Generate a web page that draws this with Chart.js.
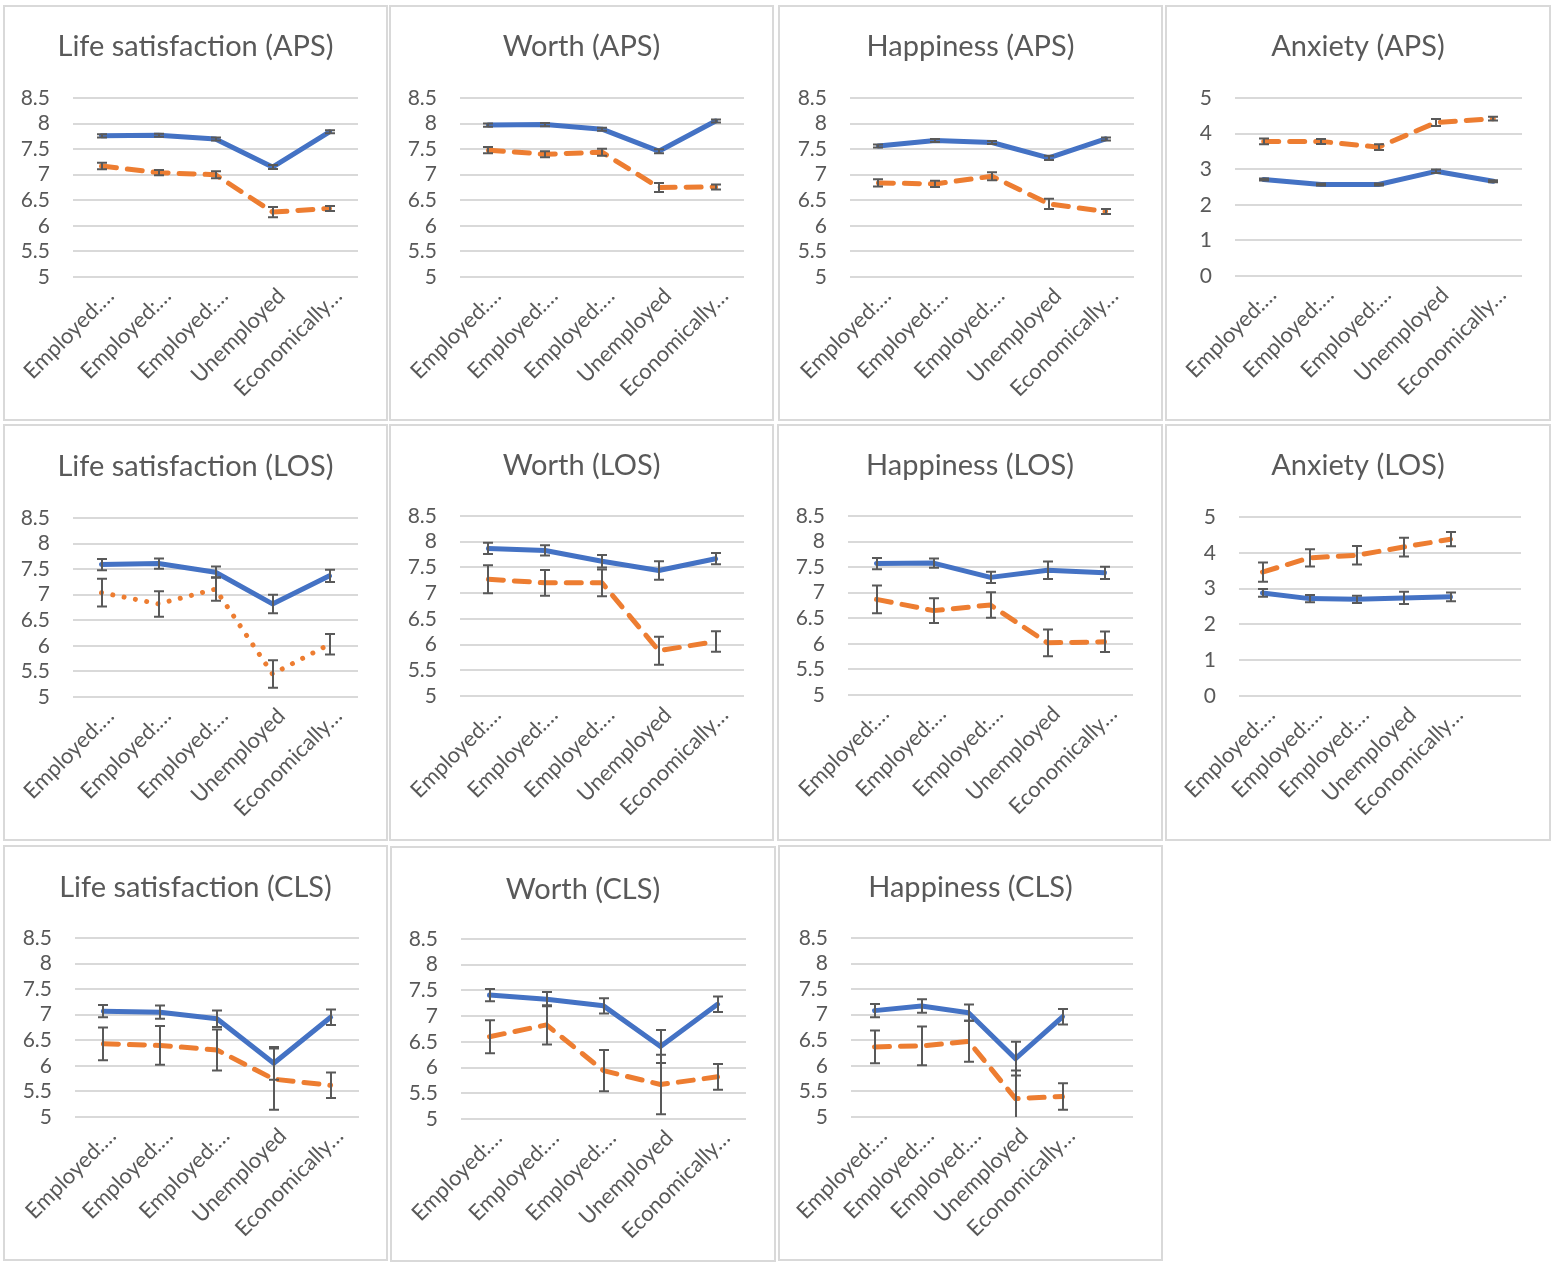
<!DOCTYPE html>
<html><head><meta charset="utf-8">
<script src="https://cdn.jsdelivr.net/npm/chart.js@4"></script>
<style>
html,body{margin:0;padding:0;background:#fff;}
body{width:1551px;height:1262px;position:relative;overflow:hidden;}
canvas{position:absolute;}
.bd{position:absolute;border:2px solid #d9d9d9;box-sizing:border-box;pointer-events:none;}
</style></head><body>
<script>
// ---- categories ----
const categories5 = ["Employed:…", "Employed:…", "Employed:…", "Unemployed", "Economically…"];
const categories6 = ["Employed:…", "Employed:…", "Employed:…", "Unemployed", "Economically…", ""];

// ---- APS ----
const lsApsA = [7.76, 7.77, 7.70, 7.15, 7.84];
const lsApsAErr = [0.03, 0.03, 0.03, 0.04, 0.03];
const lsApsB = [7.17, 7.04, 7.00, 6.27, 6.34];
const lsApsBErr = [0.065, 0.05, 0.07, 0.10, 0.05];
const worthApsA = [7.97, 7.98, 7.89, 7.46, 8.05];
const worthApsAErr = [0.03, 0.03, 0.03, 0.04, 0.03];
const worthApsB = [7.48, 7.40, 7.44, 6.75, 6.76];
const worthApsBErr = [0.06, 0.06, 0.07, 0.09, 0.05];
const hapApsA = [7.56, 7.67, 7.63, 7.33, 7.70];
const hapApsAErr = [0.03, 0.03, 0.03, 0.04, 0.03];
const hapApsB = [6.84, 6.82, 6.97, 6.43, 6.28];
const hapApsBErr = [0.07, 0.06, 0.08, 0.10, 0.05];
const anxApsA = [2.71, 2.57, 2.57, 2.94, 2.66];
const anxApsAErr = [0.03, 0.03, 0.03, 0.05, 0.03];
const anxApsB = [3.78, 3.78, 3.62, 4.31, 4.42];
const anxApsBErr = [0.08, 0.07, 0.08, 0.10, 0.05];

// ---- LOS ----
const lsLosA = [7.59, 7.61, 7.44, 6.82, 7.37];
const lsLosAErr = [0.11, 0.10, 0.11, 0.18, 0.12];
const lsLosB = [7.04, 6.82, 7.11, 5.45, 6.03];
const lsLosBErr = [0.27, 0.25, 0.23, 0.27, 0.20];
const worthLosA = [7.87, 7.83, 7.62, 7.44, 7.67];
const worthLosAErr = [0.11, 0.10, 0.12, 0.18, 0.11];
const worthLosB = [7.27, 7.20, 7.20, 5.88, 6.06];
const worthLosBErr = [0.27, 0.25, 0.26, 0.27, 0.20];
const hapLosA = [7.57, 7.58, 7.30, 7.44, 7.39];
const hapLosAErr = [0.11, 0.09, 0.11, 0.17, 0.12];
const hapLosB = [6.87, 6.65, 6.76, 6.02, 6.04];
const hapLosBErr = [0.27, 0.24, 0.25, 0.26, 0.20];
const anxLosA = [2.88, 2.72, 2.70, 2.74, 2.77];
const anxLosAErr = [0.11, 0.10, 0.10, 0.17, 0.12];
const anxLosB = [3.46, 3.86, 3.93, 4.16, 4.38];
const anxLosBErr = [0.27, 0.24, 0.26, 0.26, 0.20];

// ---- CLS ----
const lsClsA = [7.07, 7.05, 6.92, 6.05, 6.95];
const lsClsAErr = [0.12, 0.13, 0.16, 0.32, 0.15];
const lsClsB = [6.43, 6.40, 6.31, 5.74, 5.62];
const lsClsBErr = [0.32, 0.38, 0.40, 0.60, 0.25];
const worthClsA = [7.41, 7.33, 7.20, 6.41, 7.23];
const worthClsAErr = [0.12, 0.14, 0.15, 0.32, 0.15];
const worthClsB = [6.60, 6.83, 5.94, 5.67, 5.82];
const worthClsBErr = [0.32, 0.38, 0.40, 0.58, 0.25];
const hapClsA = [7.08, 7.17, 7.04, 6.14, 6.96];
const hapClsAErr = [0.13, 0.13, 0.16, 0.33, 0.15];
const hapClsB = [6.37, 6.39, 6.48, 5.36, 5.40];
const hapClsBErr = [0.32, 0.38, 0.40, 0.55, 0.26];

// ---- y tick values ----
const wellbeingTickValues = [5, 5.5, 6, 6.5, 7, 7.5, 8, 8.5];
const anxietyTickValues = [0, 1, 2, 3, 4, 5];

// ---- layout (positions only) ----
const FONT = "Lato, 'Open Sans', sans-serif";
const TEXT = '#595959';
const panels = [
  {title:'Life satisfaction (APS)', cats:categories5, a:lsApsA, ae:lsApsAErr, b:lsApsB, be:lsApsBErr, ticks:wellbeingTickValues, dotted:false, box:[3,5,385,416], plot:[73,98,358,277], ty:47},
  {title:'Worth (APS)', cats:categories5, a:worthApsA, ae:worthApsAErr, b:worthApsB, be:worthApsBErr, ticks:wellbeingTickValues, dotted:false, box:[389,5,385,416], plot:[460,98,744,277], ty:47},
  {title:'Happiness (APS)', cats:categories5, a:hapApsA, ae:hapApsAErr, b:hapApsB, be:hapApsBErr, ticks:wellbeingTickValues, dotted:false, box:[778,5,385,416], plot:[850,98,1134,277], ty:47},
  {title:'Anxiety (APS)', cats:categories5, a:anxApsA, ae:anxApsAErr, b:anxApsB, be:anxApsBErr, ticks:anxietyTickValues, dotted:false, box:[1165,5,386,416], plot:[1235,98,1522,276], ty:47},
  {title:'Life satisfaction (LOS)', cats:categories5, a:lsLosA, ae:lsLosAErr, b:lsLosB, be:lsLosBErr, ticks:wellbeingTickValues, dotted:true, box:[3,424,385,417], plot:[73,518,358,697], ty:467},
  {title:'Worth (LOS)', cats:categories5, a:worthLosA, ae:worthLosAErr, b:worthLosB, be:worthLosBErr, ticks:wellbeingTickValues, dotted:false, box:[389,424,385,417], plot:[460,516,744,696], ty:466},
  {title:'Happiness (LOS)', cats:categories5, a:hapLosA, ae:hapLosAErr, b:hapLosB, be:hapLosBErr, ticks:wellbeingTickValues, dotted:false, box:[777,424,386,417], plot:[848,516,1133,695], ty:466},
  {title:'Anxiety (LOS)', cats:categories6, a:anxLosA, ae:anxLosAErr, b:anxLosB, be:anxLosBErr, ticks:anxietyTickValues, dotted:false, box:[1165,424,386,417], plot:[1239,517,1521,696], ty:466},
  {title:'Life satisfaction (CLS)', cats:categories5, a:lsClsA, ae:lsClsAErr, b:lsClsB, be:lsClsBErr, ticks:wellbeingTickValues, dotted:false, box:[3,845,385,416], plot:[75,938,359,1117], ty:888},
  {title:'Worth (CLS)', cats:categories5, a:worthClsA, ae:worthClsAErr, b:worthClsB, be:worthClsBErr, ticks:wellbeingTickValues, dotted:false, box:[390,846,386,416], plot:[461,939,746,1119], ty:890},
  {title:'Happiness (CLS)', cats:categories6, a:hapClsA, ae:hapClsAErr, b:hapClsB, be:hapClsBErr, ticks:wellbeingTickValues, dotted:false, box:[778,845,385,416], plot:[851,938,1133,1117], ty:888}
];

const errorBarPlugin = {
  id: 'errbars',
  afterDatasetsDraw(chart) {
    const ctx = chart.ctx, xs = chart.scales.x, ys = chart.scales.y, area = chart.chartArea;
    ctx.save();
    ctx.beginPath();
    ctx.rect(area.left - 20, area.top, area.right - area.left + 40, area.bottom - area.top);
    ctx.clip();
    ctx.strokeStyle = '#595959';
    ctx.lineWidth = 2;
    ctx.lineCap = 'butt';
    chart.data.datasets.forEach(ds => {
      const errs = ds.errors;
      if (!errs) return;
      ds.data.forEach((v, i) => {
        if (v == null) return;
        const x = Math.round(xs.getPixelForValue(i));
        const y1 = ys.getPixelForValue(v + errs[i]);
        const y2 = ys.getPixelForValue(v - errs[i]);
        ctx.beginPath();
        ctx.moveTo(x, y1); ctx.lineTo(x, y2);
        ctx.moveTo(x - 5, y1); ctx.lineTo(x + 5, y1);
        ctx.moveTo(x - 5, y2); ctx.lineTo(x + 5, y2);
        ctx.stroke();
      });
    });
    ctx.restore();
  }
};

panels.forEach(p => {
  const [bx, by, bw, bh] = p.box;
  const [pl, pt, pr, pb] = p.plot;
  const cv = document.createElement('canvas');
  cv.width = bw; cv.height = bh;
  cv.style.left = bx + 'px'; cv.style.top = by + 'px';
  cv.style.width = bw + 'px'; cv.style.height = bh + 'px';
  document.body.appendChild(cv);
  const bd = document.createElement('div');
  bd.className = 'bd';
  bd.style.left = bx + 'px'; bd.style.top = by + 'px';
  bd.style.width = bw + 'px'; bd.style.height = bh + 'px';
  document.body.appendChild(bd);

  const titleSize = 29, lh = titleSize * 1.2;
  const tTop = (p.ty - by) - lh / 2;
  const tBot = (pt - by) - lh - tTop;
  const yW = pl - bx;
  const rW = (bx + bw) - pr;
  const xH = (by + bh) - pb;
  const tv = p.ticks;

  new Chart(cv, {
    type: 'line',
    data: {
      labels: p.cats,
      datasets: [
        {label: 'Series 1', data: p.a, errors: p.ae, borderColor: '#4472C4', backgroundColor: '#4472C4',
         borderWidth: 5, pointRadius: 0, tension: 0, borderCapStyle: 'round', borderJoinStyle: 'round', fill: false},
        {label: 'Series 2', data: p.b, errors: p.be, borderColor: '#ED7D31', backgroundColor: '#ED7D31',
         borderWidth: 5, pointRadius: 0, tension: 0, borderDash: p.dotted ? [0.01, 11.5] : [15, 11],
         borderCapStyle: 'round', borderJoinStyle: 'round', fill: false}
      ]
    },
    options: {
      responsive: false, animation: false, devicePixelRatio: 1,
      layout: {padding: 0},
      plugins: {
        legend: {display: false},
        tooltip: {enabled: false},
        title: {display: true, text: p.title, color: TEXT,
                font: {family: FONT, size: titleSize, weight: 'normal', lineHeight: 1.2},
                padding: {top: tTop, bottom: tBot}}
      },
      scales: {
        x: {
          type: 'category', offset: true,
          grid: {display: false, drawTicks: false}, border: {display: false},
          ticks: {autoSkip: false, minRotation: 45, maxRotation: 45, color: TEXT,
                  font: {family: FONT, size: 22}, padding: 6, labelOffset: 9},
          afterFit(s) { s.height = xH; }
        },
        y: {
          type: 'linear', min: tv[0], max: tv[tv.length - 1],
          grid: {color: '#d9d9d9', lineWidth: 2, drawTicks: false}, border: {display: false},
          ticks: {autoSkip: false, color: TEXT, font: {family: FONT, size: 21, lineHeight: 1}, padding: 23, callback: v => String(v)},
          afterBuildTicks(s) { s.ticks = tv.map(v => ({value: v})); },
          afterFit(s) { s.width = yW; }
        },
        yr: {
          type: 'linear', position: 'right', display: true,
          grid: {display: false, drawTicks: false}, border: {display: false},
          ticks: {display: false},
          afterFit(s) { s.width = rW; }
        }
      }
    },
    plugins: [errorBarPlugin]
  });
});
</script>
</body></html>
